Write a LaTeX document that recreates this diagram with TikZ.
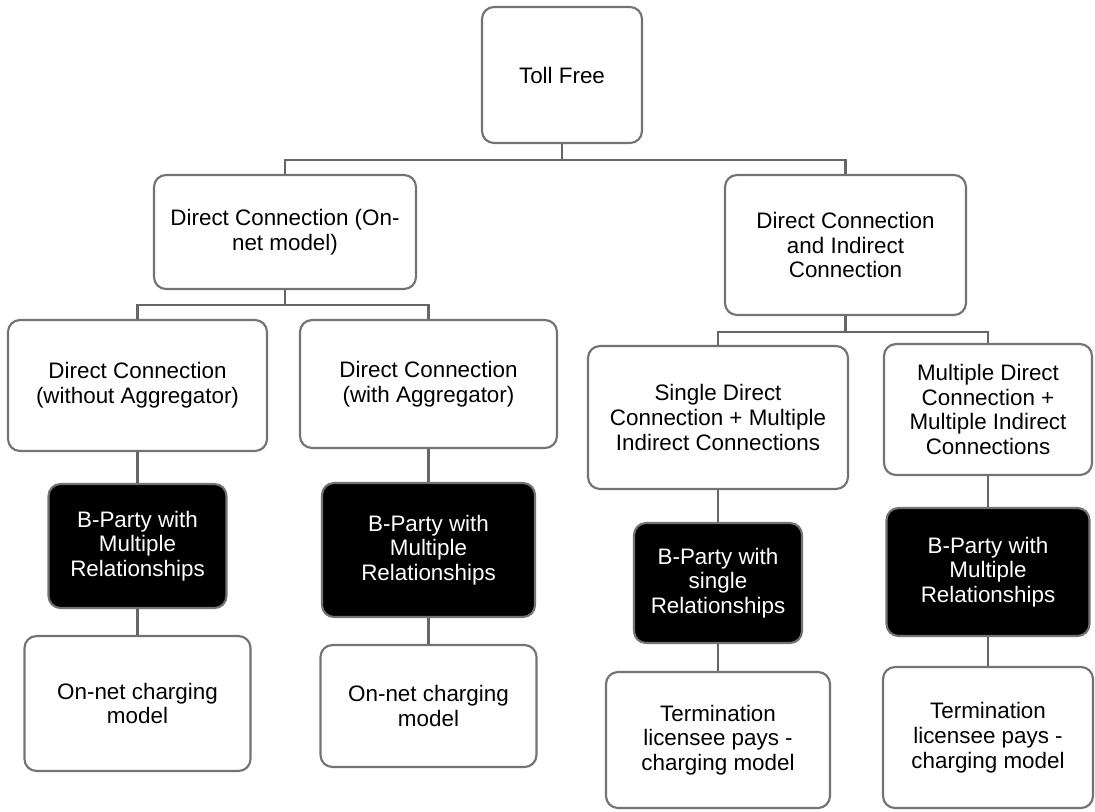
\documentclass[tikz,border=0pt]{standalone}
\usepackage{fontspec}
\setmainfont{Liberation Sans}
\begin{document}
\begin{tikzpicture}[x=0.75pt,y=-0.75pt,
  base/.style={rectangle, rounded corners=9pt, line width=1.6pt, draw=black!55,
    inner sep=0pt, align=center, font=\fontsize{16.8}{18.6}\selectfont},
  wbox/.style={base, fill=white, text=black},
  bbox/.style={base, fill=black, text=white},
  conn/.style={line width=2.2pt, draw=black!60}]
\useasboundingbox (0,0) rectangle (1095,811);
% level 0
\node[wbox, minimum width=160*0.75pt, minimum height=136*0.75pt] (tf) at (562,75) {Toll Free};
% level 1
\node[wbox, minimum width=262*0.75pt, minimum height=114*0.75pt] (dc1) at (285,232) {Direct Connection (On-\\net model)};
\node[wbox, minimum width=241*0.75pt, minimum height=140*0.75pt] (dc2) at (845.5,245) {Direct Connection\\and Indirect\\Connection};
% level 2
\node[wbox, minimum width=259*0.75pt, minimum height=131*0.75pt] (l1) at (137.5,385.5) {Direct Connection\\(without Aggregator)};
\node[wbox, minimum width=257*0.75pt, minimum height=128*0.75pt] (l2) at (428.5,384) {Direct Connection\\(with Aggregator)};
\node[wbox, minimum width=260*0.75pt, minimum height=143*0.75pt] (s1) at (718,417.5) {Single Direct\\Connection + Multiple\\Indirect Connections};
\node[wbox, minimum width=208*0.75pt, minimum height=131*0.75pt] (s2) at (988,409.5) {Multiple Direct\\Connection +\\Multiple Indirect\\Connections};
% black boxes
\node[bbox, minimum width=178*0.75pt, minimum height=124*0.75pt] (b1) at (137.5,546) {B-Party with\\Multiple\\Relationships};
\node[bbox, minimum width=213*0.75pt, minimum height=134*0.75pt] (b2) at (428.5,550) {B-Party with\\Multiple\\Relationships};
\node[bbox, minimum width=168*0.75pt, minimum height=120*0.75pt] (b3) at (718,583) {B-Party with\\single\\Relationships};
\node[bbox, minimum width=203*0.75pt, minimum height=128*0.75pt] (b4) at (988,572) {B-Party with\\Multiple\\Relationships};
% bottom
\node[wbox, minimum width=226*0.75pt, minimum height=135*0.75pt] (o1) at (137.5,703.5) {On-net charging\\model};
\node[wbox, minimum width=216*0.75pt, minimum height=122*0.75pt] (o2) at (428.5,706) {On-net charging\\model};
\node[wbox, minimum width=224*0.75pt, minimum height=136*0.75pt] (t1) at (718,740) {Termination\\licensee pays -\\charging model};
\node[wbox, minimum width=210*0.75pt, minimum height=141*0.75pt] (t2) at (988,737.5) {Termination\\licensee pays -\\charging model};
% bus coordinates
\coordinate (bus0) at (0,160);
\coordinate (bus1) at (0,305);
\coordinate (bus2) at (0,332);
% connectors
\draw[conn] (tf.south) -- (tf.south |- bus0);
\draw[conn] (dc1.north) -- (dc1.north |- bus0) -| (dc2.north);
\draw[conn] (dc1.south) -- (dc1.south |- bus1);
\draw[conn] (l1.north) -- (l1.north |- bus1) -| (l2.north);
\draw[conn] (dc2.south) -- (dc2.south |- bus2);
\draw[conn] (s1.north) -- (s1.north |- bus2) -| (s2.north);
\draw[conn] (l1.south) -- (b1.north);
\draw[conn] (b1.south) -- (o1.north);
\draw[conn] (l2.south) -- (b2.north);
\draw[conn] (b2.south) -- (o2.north);
\draw[conn] (s1.south) -- (b3.north);
\draw[conn] (b3.south) -- (t1.north);
\draw[conn] (s2.south) -- (b4.north);
\draw[conn] (b4.south) -- (t2.north);
\end{tikzpicture}
\end{document}
